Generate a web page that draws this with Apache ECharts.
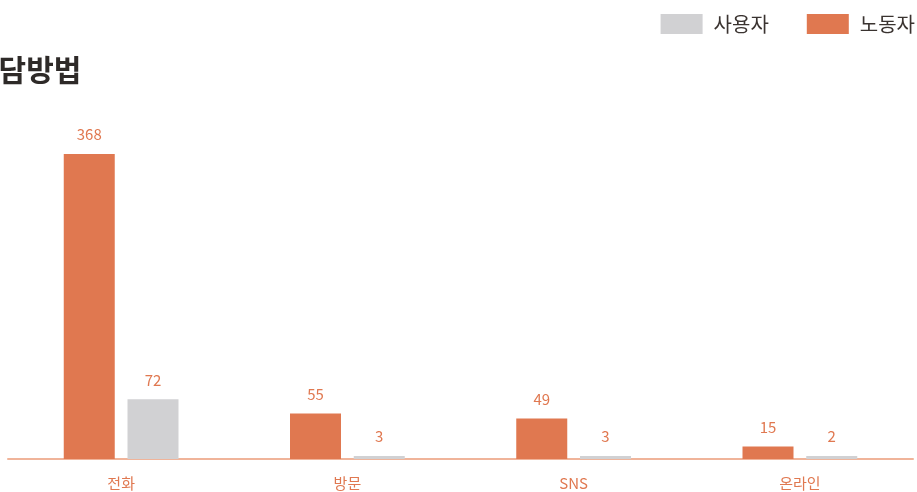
<!DOCTYPE html>
<html><head><meta charset="utf-8">
<script src="https://cdn.jsdelivr.net/npm/echarts@6/dist/echarts.min.js"></script>
<style>html,body{margin:0;padding:0;background:#fff}#c{width:917px;height:492px}</style>
</head><body><div id="c"></div>
<script>
const categories = ['전화', '방문', 'SNS', '온라인'];
const workerValues = [368, 55, 49, 15];   // 노동자
const employerValues = [72, 3, 3, 2];     // 사용자
const seriesNames = ['노동자', '사용자'];
const legendOrder = ['사용자', '노동자'];
const titleText = '상담방법';

const ORANGE = '#e07850';
const GRAY = '#d1d1d3';
const chart = echarts.init(document.getElementById('c'));
const font = '"Noto Sans CJK KR", "Noto Sans", sans-serif';
chart.setOption({
  animation: false,
  title: { text: titleText, left: -34, top: 50, textStyle: { fontFamily: font, fontSize: 30, fontWeight: 'bold', color: '#2e2a28' } },
  legend: {
    data: legendOrder, right: -3, top: 9, itemWidth: 42, itemHeight: 20, itemGap: 38,
    icon: 'rect',
    textStyle: { fontFamily: font, fontSize: 20, color: '#3a3330', padding: [0, 0, 0, 6] }
  },
  grid: { left: 8, right: 4, top: 154, bottom: 33, containLabel: false },
  xAxis: {
    type: 'category', data: categories,
    axisLine: { lineStyle: { color: '#f0b49a', width: 2 } },
    axisTick: { show: false },
    axisLabel: { color: ORANGE, fontFamily: font, fontSize: 15, margin: 17 }
  },
  yAxis: { type: 'value', min: 0, max: 368, show: false, splitLine: { show: false } },
  series: [
    { name: seriesNames[0], type: 'bar', data: workerValues, barWidth: 51, barGap: '25%',
      itemStyle: { color: ORANGE },
      label: { show: true, position: 'top', distance: 12, color: ORANGE, fontFamily: font, fontSize: 15 } },
    { name: seriesNames[1], type: 'bar', data: employerValues, barWidth: 51, barMinHeight: 3,
      itemStyle: { color: GRAY },
      label: { show: true, position: 'top', distance: 12, color: ORANGE, fontFamily: font, fontSize: 15 } }
  ]
});
</script></body></html>
